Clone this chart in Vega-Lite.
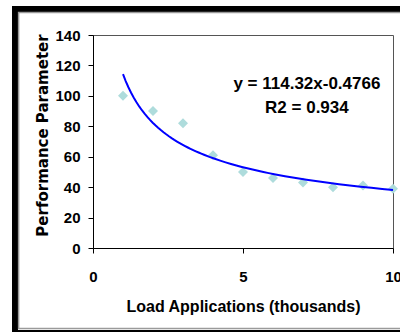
{
  "$schema": "https://vega.github.io/schema/vega-lite/v6.json",
  "width": 300,
  "height": 213,
  "autosize": {"type": "none"},
  "padding": {"left": 93, "top": 35, "right": 7, "bottom": 84},
  "background": "white",
  "config": {
    "view": {"stroke": "#555555", "strokeWidth": 1},
    "axis": {
      "labelFont": "Liberation Sans",
      "labelFontWeight": "bold",
      "labelFontSize": 15,
      "labelColor": "black",
      "labelOverlap": false,
      "labelFlush": false,
      "domainColor": "black",
      "tickColor": "black",
      "tickSize": 5,
      "grid": false,
      "titleColor": "black",
      "titleFontWeight": "bold"
    }
  },
  "datasets": {
    "points": [
      {"load": 1, "perf": 100},
      {"load": 2, "perf": 90},
      {"load": 3, "perf": 82},
      {"load": 4, "perf": 61},
      {"load": 5, "perf": 50},
      {"load": 6, "perf": 46},
      {"load": 7, "perf": 43},
      {"load": 8, "perf": 40},
      {"load": 9, "perf": 41},
      {"load": 10, "perf": 39}
    ],
    "one": [{}]
  },
  "layer": [
    {
      "data": {"name": "points"},
      "mark": {"type": "point", "shape": "diamond", "filled": true, "size": 100, "color": "#AEDCDC", "opacity": 1, "clip": false},
      "encoding": {
        "x": {
          "field": "load",
          "type": "quantitative",
          "scale": {"domain": [0, 10], "nice": false, "zero": false},
          "axis": {
            "values": [0, 5, 10],
            "tickCount": 3,
            "labelPadding": 16,
            "title": "Load Applications (thousands)",
            "titleFont": "Liberation Sans",
            "titleFontSize": 16,
            "titlePadding": 14
          }
        },
        "y": {
          "field": "perf",
          "type": "quantitative",
          "scale": {"domain": [0, 140], "nice": false},
          "axis": {
            "values": [0, 20, 40, 60, 80, 100, 120, 140],
            "tickCount": 8,
            "labelPadding": 8,
            "title": "Performance Parameter",
            "titleFont": "DejaVu Sans",
            "titleFontSize": 15,
            "titlePadding": 4,
            "titleY": 100
          }
        }
      }
    },
    {
      "data": {"name": "points"},
      "transform": [
        {"regression": "perf", "on": "load", "method": "pow", "extent": [1, 10]}
      ],
      "mark": {"type": "line", "color": "#0000FF", "strokeWidth": 2},
      "encoding": {
        "x": {"field": "load", "type": "quantitative"},
        "y": {"field": "perf", "type": "quantitative"}
      }
    },
    {
      "data": {"name": "one"},
      "mark": {
        "type": "text",
        "font": "Liberation Sans",
        "fontWeight": "bold",
        "fontSize": 17,
        "align": "center",
        "baseline": "middle",
        "lineHeight": 23.5,
        "color": "black",
        "text": ["y = 114.32x-0.4766", "R2 = 0.934"]
      },
      "encoding": {
        "x": {"datum": 7.13, "type": "quantitative"},
        "y": {"datum": 107.6, "type": "quantitative"}
      }
    },
    {
      "data": {"name": "one"},
      "mark": {"type": "rect", "clip": false, "fill": null, "stroke": "black", "strokeWidth": 6},
      "encoding": {
        "x": {"datum": -2.6, "type": "quantitative"},
        "x2": {"datum": 10.6},
        "y": {"datum": 157.1, "type": "quantitative"},
        "y2": {"datum": -55.9}
      }
    },
    {
      "data": {"name": "one"},
      "mark": {"type": "rect", "clip": false, "fill": null, "stroke": "#9a9a9a", "strokeWidth": 1.5},
      "encoding": {
        "x": {"datum": -2.48, "type": "quantitative"},
        "x2": {"datum": 10.45},
        "y": {"datum": 154.8, "type": "quantitative"},
        "y2": {"datum": -52.9}
      }
    }
  ]
}
